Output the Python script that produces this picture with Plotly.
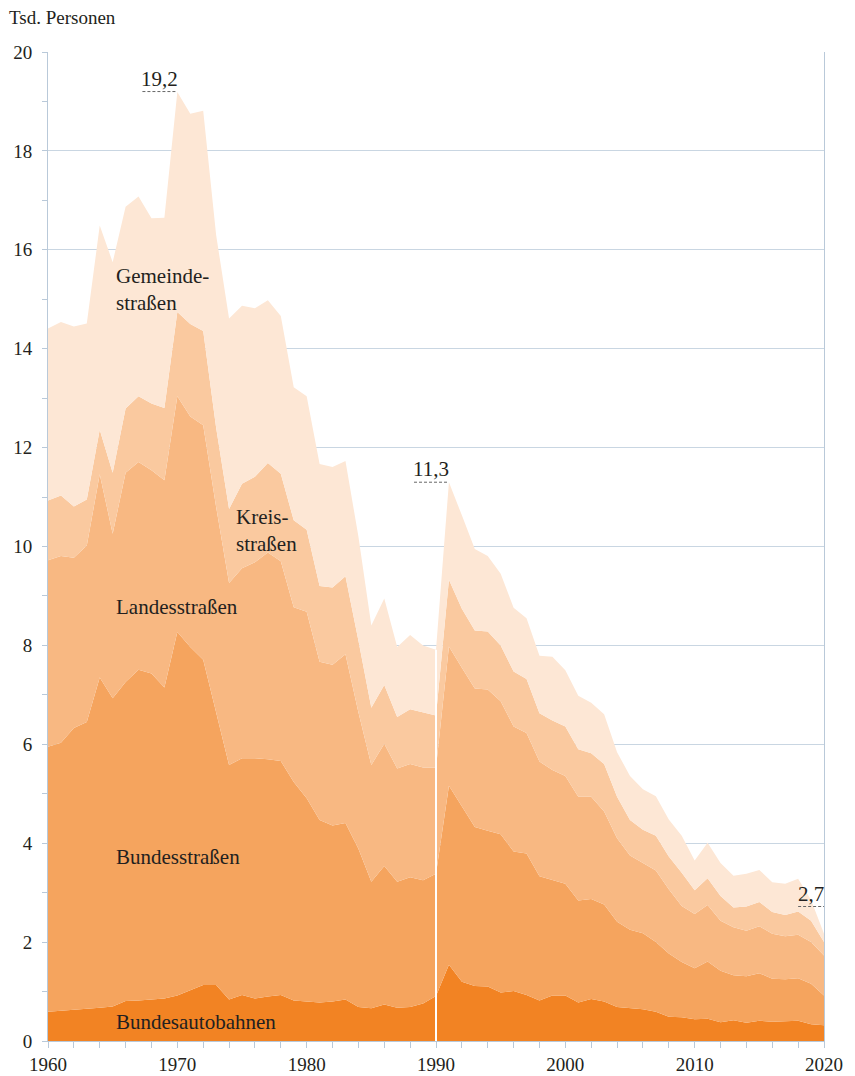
import plotly.graph_objects as go

# Jahre
jahre = list(range(1960, 2021))

# Obergrenzen der gestapelten Flächen (Tsd. Personen)
bundesautobahnen = [
    0.59, 0.61, 0.62, 0.65, 0.67, 0.70, 0.81, 0.82, 0.84, 0.86,
    0.92, 1.02, 1.13, 1.13, 0.84, 0.93, 0.86, 0.90, 0.93, 0.82,
    0.80, 0.78, 0.80, 0.84, 0.69, 0.66, 0.74, 0.67, 0.69, 0.76,
    0.91, 1.54, 1.20, 1.11, 1.10, 0.98, 1.01, 0.93, 0.82, 0.92,
    0.92, 0.78, 0.85, 0.80, 0.69, 0.66, 0.64, 0.59, 0.49, 0.48,
    0.44, 0.45, 0.38, 0.42, 0.37, 0.41, 0.39, 0.40, 0.41, 0.34,
    0.32,
]
bundesstrassen = [
    5.95, 6.03, 6.33, 6.45, 7.35, 6.93, 7.26, 7.51, 7.43, 7.15,
    8.27, 7.97, 7.71, 6.65, 5.58, 5.72, 5.72, 5.70, 5.66, 5.24,
    4.91, 4.47, 4.36, 4.41, 3.89, 3.22, 3.54, 3.22, 3.31, 3.25,
    3.38, 5.16, 4.75, 4.33, 4.25, 4.18, 3.83, 3.79, 3.33, 3.26,
    3.18, 2.84, 2.87, 2.76, 2.41, 2.25, 2.18, 2.00, 1.77, 1.60,
    1.47, 1.61, 1.42, 1.33, 1.31, 1.37, 1.26, 1.25, 1.27, 1.16,
    0.92,
]
landesstrassen = [
    9.72, 9.81, 9.77, 10.02, 11.46, 10.26, 11.49, 11.71, 11.54, 11.34,
    13.04, 12.63, 12.45, 10.80, 9.26, 9.56, 9.68, 9.88, 9.70, 8.77,
    8.68, 7.67, 7.61, 7.82, 6.65, 5.58, 6.01, 5.51, 5.60, 5.53,
    5.53, 7.98, 7.55, 7.13, 7.11, 6.87, 6.36, 6.23, 5.65, 5.48,
    5.36, 4.94, 4.94, 4.64, 4.10, 3.75, 3.60, 3.45, 3.07, 2.73,
    2.57, 2.75, 2.43, 2.30, 2.23, 2.32, 2.17, 2.12, 2.15, 2.00,
    1.73,
]
kreisstrassen = [
    10.93, 11.03, 10.81, 10.95, 12.36, 11.49, 12.79, 13.04, 12.89, 12.80,
    14.74, 14.50, 14.36, 12.40, 10.76, 11.27, 11.41, 11.69, 11.47, 10.53,
    10.34, 9.20, 9.17, 9.40, 8.10, 6.74, 7.20, 6.55, 6.71, 6.65,
    6.58, 9.33, 8.74, 8.30, 8.28, 8.00, 7.47, 7.32, 6.63, 6.48,
    6.36, 5.90, 5.82, 5.60, 4.94, 4.47, 4.27, 4.15, 3.73, 3.40,
    3.05, 3.29, 2.93, 2.70, 2.72, 2.81, 2.61, 2.55, 2.62, 2.43,
    2.00,
]
gemeindestrassen = [
    14.41, 14.54, 14.45, 14.51, 16.49, 15.75, 16.87, 17.08, 16.64, 16.65,
    19.19, 18.75, 18.81, 16.30, 14.61, 14.87, 14.82, 14.98, 14.66, 13.22,
    13.04, 11.67, 11.61, 11.73, 10.20, 8.40, 8.95, 7.97, 8.21, 8.00,
    7.91, 11.30, 10.63, 9.95, 9.81, 9.45, 8.76, 8.55, 7.79, 7.77,
    7.50, 6.98, 6.84, 6.61, 5.84, 5.36, 5.09, 4.95, 4.48, 4.15,
    3.65, 4.01, 3.60, 3.34, 3.38, 3.46, 3.21, 3.18, 3.28, 2.85,
    2.17,
]

farben = ["#f28323", "#f5a45e", "#f8b882", "#fac99f", "#fde7d5"]
schichten = [bundesautobahnen, bundesstrassen, landesstrassen, kreisstrassen, gemeindestrassen]

schrift = "Liberation Serif, Times New Roman, serif"
textfarbe = "#231f20"

fig = go.Figure()
for i, (werte, farbe) in enumerate(zip(schichten, farben)):
    fig.add_trace(go.Scatter(
        x=jahre, y=werte, mode="lines", line=dict(width=0),
        fill="tozeroy" if i == 0 else "tonexty", fillcolor=farbe,
        hoverinfo="skip", showlegend=False,
    ))

# Bruch 1990 (früheres Bundesgebiet / Deutschland)
fig.add_shape(type="line", x0=1990, x1=1990, y0=0, y1=gemeindestrassen[30],
              line=dict(color="white", width=2))

# Beschriftungen der Flächen
beschriftung = [
    ("Gemeinde-<br>straßen", 1965.1, 15.2),
    ("Kreis-<br>straßen", 1974.4, 10.33),
    ("Landesstraßen", 1965.1, 8.78),
    ("Bundesstraßen", 1965.1, 3.72),
    ("Bundesautobahnen", 1965.1, 0.38),
]
for text, x, y in beschriftung:
    fig.add_annotation(x=x, y=y, text=text, showarrow=False, xanchor="left",
                       align="left", font=dict(family=schrift, size=21, color=textfarbe))

# Markierte Werte mit gestrichelter Linie
marken = [
    ("19,2", 1967.3, 1970.0, 19.2),
    ("11,3", 1988.3, 1991.0, 11.3),
    ("2,7", 2018.0, 2020.0, 2.72),
]
for text, xa, xb, y in marken:
    fig.add_shape(type="line", x0=xa, x1=xb, y0=y, y1=y,
                  line=dict(color="#666666", width=1, dash="3px,2px"))
    fig.add_annotation(x=(xa + xb) / 2, y=y, text=text, showarrow=False,
                       yanchor="bottom", yshift=-1,
                       font=dict(family=schrift, size=21, color=textfarbe))

fig.add_annotation(x=0, y=1, xref="paper", yref="paper", text="Tsd. Personen",
                   showarrow=False, xanchor="left", yanchor="bottom",
                   xshift=-41, yshift=22, font=dict(family=schrift, size=19, color=textfarbe))

achsfarbe = "#b9c9d9"
fig.update_layout(
    width=847, height=1068,
    margin=dict(l=40, r=31, t=44, b=35),
    plot_bgcolor="white", paper_bgcolor="white",
    font=dict(family=schrift, size=19, color=textfarbe),
    xaxis=dict(range=[1960, 2020], dtick=10, tick0=1960, showgrid=False,
               showline=True, linecolor=achsfarbe, linewidth=1, automargin=False,
               ticks="outside", ticklen=6, tickcolor=achsfarbe,
               minor=dict(dtick=2, ticks="outside", ticklen=6, tickcolor=achsfarbe),
               zeroline=False),
    yaxis=dict(range=[0, 20], dtick=2, tick0=0, showgrid=True, gridcolor="#c9d6e2",
               gridwidth=1, showline=True, linecolor=achsfarbe, linewidth=1, mirror=True,
               ticks="outside", ticklen=5, tickcolor=achsfarbe, automargin=False,
               ticklabelstandoff=6,
               minor=dict(dtick=1, ticks="outside", ticklen=5, tickcolor=achsfarbe),
               zeroline=False),
)

fig.write_html("out.html")
